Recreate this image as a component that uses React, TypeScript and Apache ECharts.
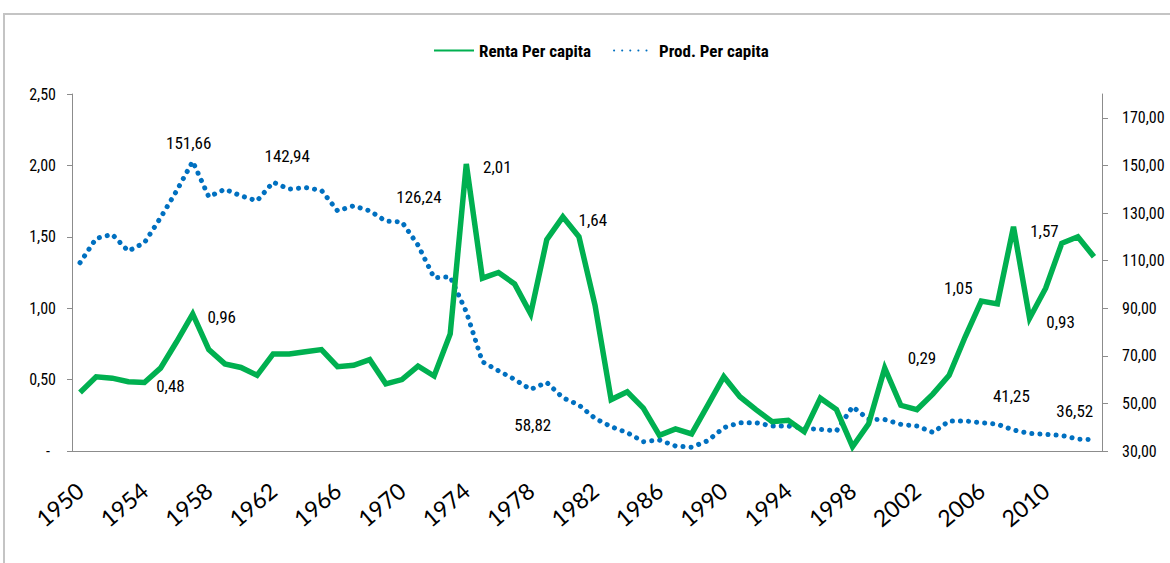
import React, { useEffect, useRef } from "react";
import * as echarts from "echarts";

const years = [
  "1950","1951","1952","1953","1954","1955","1956","1957","1958","1959",
  "1960","1961","1962","1963","1964","1965","1966","1967","1968","1969",
  "1970","1971","1972","1973","1974","1975","1976","1977","1978","1979",
  "1980","1981","1982","1983","1984","1985","1986","1987","1988","1989",
  "1990","1991","1992","1993","1994","1995","1996","1997","1998","1999",
  "2000","2001","2002","2003","2004","2005","2006","2007","2008","2009",
  "2010","2011","2012","2013",
];

const rentaPerCapita = [
  0.41, 0.52, 0.51, 0.485, 0.48, 0.58, 0.765, 0.96, 0.71, 0.61,
  0.585, 0.53, 0.68, 0.68, 0.695, 0.71, 0.59, 0.6, 0.64, 0.47,
  0.5, 0.595, 0.525, 0.82, 2.01, 1.21, 1.25, 1.17, 0.96, 1.48,
  1.64, 1.5, 1.02, 0.36, 0.415, 0.3, 0.11, 0.155, 0.12, 0.32,
  0.52, 0.38, 0.29, 0.205, 0.215, 0.135, 0.37, 0.29, 0.03, 0.19,
  0.58, 0.32, 0.29, 0.4, 0.53, 0.8, 1.05, 1.03, 1.57, 0.93,
  1.14, 1.455, 1.5, 1.36,
];

const prodPerCapita = [
  109.1, 119.3, 121.0, 114.0, 117.5, 128.0, 139.3, 151.66, 136.8, 140.0,
  137.2, 135.1, 142.94, 140.0, 140.7, 139.5, 130.9, 133.0, 130.9, 126.6,
  126.24, 116.5, 102.8, 103.2, 88.5, 67.5, 63.7, 60.1, 55.9, 58.82,
  52.4, 49.3, 43.7, 40.2, 37.7, 33.9, 34.6, 32.1, 31.6, 34.3,
  39.8, 41.9, 41.9, 40.5, 40.5, 39.5, 39.1, 38.4, 48.6, 43.3,
  43.2, 41.2, 40.5, 37.8, 42.6, 42.6, 41.9, 41.25, 38.8, 37.4,
  37.0, 36.52, 35.0, 34.8,
];

const rightTicks = [30, 50, 70, 90, 110, 130, 150, 170];

// labelled points: year and label offset (px) from the point
const rentaLabels: [string, number, number][] = [
  ["1954", 26, 4], ["1957", 29, 3], ["1974", 31, 3], ["1980", 30, 3],
  ["2002", 5, -52], ["2006", -23, -13], ["2008", 31, 4], ["2009", 31, 4],
];
const prodLabels: [string, number, number][] = [
  ["1957", -4, -18], ["1962", 14, -26], ["1970", 17, -25],
  ["1979", -14, 43], ["2007", 14, -28], ["2011", 13, -24],
];

const FONT = "'Roboto Condensed', 'Liberation Sans Narrow', 'Arial Narrow', sans-serif";
const fmt = (v: number) => v.toFixed(2).replace(".", ",");

function buildData(values: number[], labels: [string, number, number][]) {
  return values.map((v, i) => {
    const l = labels.find((x) => x[0] === years[i]);
    if (!l) return { value: v };
    return {
      value: v,
      label: {
        show: true,
        position: "inside",
        offset: [l[1], l[2]],
        align: "center",
        verticalAlign: "middle",
        formatter: (p: any) => fmt(p.value),
        fontSize: 17,
        fontFamily: FONT,
        color: "#000",
      },
    };
  });
}

export default function App() {
  const ref = useRef<HTMLDivElement>(null);
  useEffect(() => {
    document.body.style.margin = "0";
    const chart = echarts.init(ref.current!, null, { renderer: "svg" });
    const axisColor = "#8c8c8c";
    chart.setOption({
      animation: false,
      backgroundColor: "#fff",
      graphic: [
        {
          type: "rect",
          silent: true,
          shape: { x: 4, y: 14, width: 1400, height: 800 },
          style: { fill: "none", stroke: "#c4c4c4", lineWidth: 2 },
        },
      ],
      legend: {
        top: 37,
        left: 428,
        itemWidth: 40,
        itemHeight: 12,
        itemGap: 22,
        textStyle: { fontFamily: FONT, fontWeight: "bold", fontSize: 17, color: "#000" },
        data: ["Renta Per capita", "Prod. Per capita"],
      },
      grid: { left: 72, right: 68, top: 94, bottom: 112 },
      xAxis: {
        type: "category",
        data: years,
        boundaryGap: true,
        axisLine: { lineStyle: { color: axisColor, width: 1 } },
        axisTick: { interval: 0, length: 8, lineStyle: { color: axisColor } },
        axisLabel: {
          interval: 3,
          rotate: 40,
          margin: 36,
          fontSize: 23,
          fontFamily: "Lato, 'Open Sans', sans-serif",
          color: "#000",
        },
        splitLine: { show: false },
      },
      yAxis: [
        {
          type: "value",
          min: 0,
          max: 2.5,
          interval: 0.5,
          axisLine: { show: true, lineStyle: { color: axisColor } },
          axisTick: { show: true, length: 5, lineStyle: { color: axisColor } },
          splitLine: { show: false },
          axisLabel: {
            margin: 16,
            fontSize: 16,
            fontFamily: FONT,
            color: "#000",
            formatter: (v: number) => (v === 0 ? "{d|-}" : fmt(v)),
            rich: { d: { fontSize: 16, fontFamily: FONT, color: "#000", padding: [0, 6, 0, 0] } },
          },
        },
        {
          type: "value",
          position: "right",
          min: 30,
          max: 180,
          axisLine: { show: true, lineStyle: { color: axisColor } },
          axisTick: { show: true, length: 6, customValues: rightTicks, lineStyle: { color: axisColor } },
          splitLine: { show: false },
          axisLabel: {
            margin: 20,
            fontSize: 16,
            fontFamily: FONT,
            color: "#000",
            customValues: rightTicks,
            formatter: (v: number) => fmt(v),
          },
        },
      ],
      series: [
        {
          name: "Renta Per capita",
          type: "line",
          yAxisIndex: 0,
          data: buildData(rentaPerCapita, rentaLabels),
          symbol: "circle",
          symbolSize: 1,
          showSymbol: true,
          itemStyle: { color: "rgba(0,0,0,0)", borderWidth: 0 },
          lineStyle: { color: "#00B050", width: 5.5, join: "miter" },
          z: 3,
        },
        {
          name: "Prod. Per capita",
          type: "line",
          yAxisIndex: 1,
          data: buildData(prodPerCapita, prodLabels),
          symbol: "circle",
          symbolSize: 1,
          showSymbol: true,
          itemStyle: { color: "rgba(0,0,0,0)", borderWidth: 0 },
          lineStyle: { color: "#0070C0", width: 5, type: [0.1, 8], cap: "round" },
          z: 2,
        },
      ],
    });
    return () => chart.dispose();
  }, []);
  return (
    <div
      ref={ref}
      style={{ position: "absolute", left: 0, top: 0, width: 1170, height: 563 }}
    />
  );
}
